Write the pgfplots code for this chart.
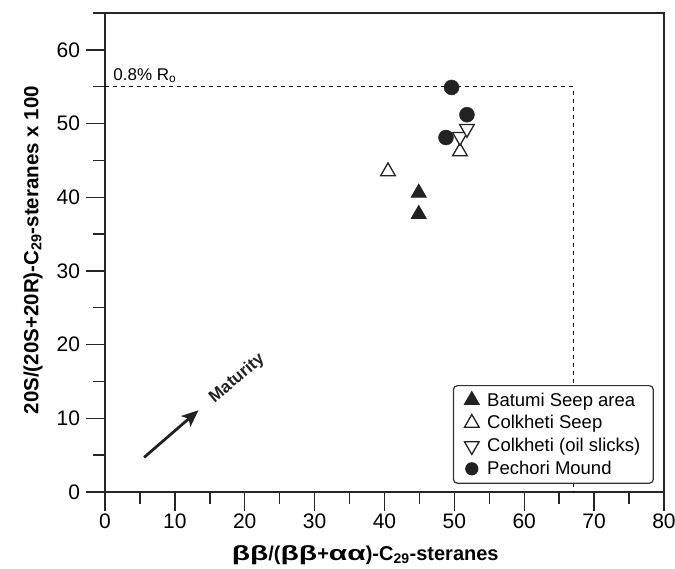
\documentclass[border=0pt]{standalone}
\usepackage{fontspec}
\setmainfont{Liberation Sans}
\usepackage{graphicx}
\usepackage{pgfplots}
\pgfplotsset{compat=1.18}
\usetikzlibrary{arrows.meta}
\definecolor{mk}{HTML}{222222}
\newcommand{\gk}[1]{\scalebox{1.5}[1.03]{#1}}
\begin{document}
\begin{tikzpicture}
\begin{axis}[
  scale only axis, width=559pt, height=479pt,
  xmin=0, xmax=80, ymin=0, ymax=65,
  xtick={0,10,...,80}, ytick={0,10,...,60},
  minor xtick={5,15,...,75}, minor ytick={5,15,...,55},
  xtick pos=left, ytick pos=left,
  tick align=outside, major tick length=18.5pt, minor tick length=11.5pt,
  every tick/.style={line width=1.4pt, black!85},
  axis line style={line width=1.6pt, black!85},
  /pgf/number format/assume math mode=true,
  tick label style={font=\fontsize{21}{25}\selectfont},
  yticklabel style={xshift=-3pt},
  xlabel={\bfseries \gk{ββ}/(\gk{ββ}+\gk{αα})-C\textsubscript{29}-steranes},
  ylabel={\bfseries 20S/(20S+20R)-C\textsubscript{29}-steranes x 100},
  xlabel style={font=\fontsize{20}{24}\selectfont, at={([yshift=-63pt]axis description cs:0.4655,0)}, anchor=center},
  ylabel style={font=\fontsize{20.5}{24}\selectfont, at={([xshift=-72pt]axis description cs:0,0.505)}, anchor=center},
  legend style={at={(axis description cs:0.982,0.017)}, anchor=south east,
    draw=black!80, line width=1.2pt, rounded corners=4pt,
    font=\fontsize{18.5}{22}\selectfont, inner xsep=11pt, inner ysep=5pt, row sep=4pt,
    /tikz/every odd column/.append style={column sep=6pt}},
  legend cell align=left,
  clip=false,
]
\addplot[black, line width=1.1pt, dash pattern=on 4pt off 4pt, forget plot] coordinates {(0,55) (67,55) (67,0)};
\addplot[only marks, mark=*, mark size=7.5pt, mark options={fill=mk, draw=mk}, forget plot] coordinates {(49.6,54.9) (51.8,51.2) (48.8,48.1)};
\addplot[only marks, mark=triangle*, mark size=8.5pt, mark options={fill=mk, draw=mk, line width=1pt}] coordinates {(44.9,40.6) (44.9,37.7)};
\addlegendentry{Batumi Seep area}
\addplot[only marks, mark=triangle*, mark size=8.5pt, mark options={fill=white, draw=mk, line width=1.3pt}] coordinates {(40.5,43.5) (50.8,46.2)};
\addlegendentry{Colkheti Seep}
\addplot[only marks, mark=triangle*, mark size=8.5pt, mark options={fill=white, draw=mk, line width=1.3pt, rotate=180}] coordinates {(50.8,48.2) (51.8,49.3)};
\addlegendentry{Colkheti (oil slicks)}
\addlegendimage{only marks, mark=*, mark size=6pt, mark options={fill=mk, draw=mk}}
\addlegendentry{Pechori Mound}
\node[anchor=base west, font=\fontsize{17}{20}\selectfont] at (axis cs:0.7,55.9) {0.8\% R\textsubscript{o}};
\draw[line width=2.8pt, mk, -{Stealth[length=17pt, width=14pt, inset=4pt]}] (axis cs:5.6,4.7) -- (axis cs:13.4,11.1);
\node[rotate=40, font=\bfseries\fontsize{17}{20}\selectfont, mk] at (axis cs:18.9,15.4) {Maturity};
\draw[line width=1.6pt, black!85] (rel axis cs:0,1) -- ++(-12pt,0);
\draw[line width=1.6pt, black!85] (rel axis cs:0,0) -- ++(-19pt,0);
\end{axis}
\pgfresetboundingbox
\path (current axis.south west) ++(-105pt,-76pt) rectangle ++(675pt,568pt);
\end{tikzpicture}
\end{document}
